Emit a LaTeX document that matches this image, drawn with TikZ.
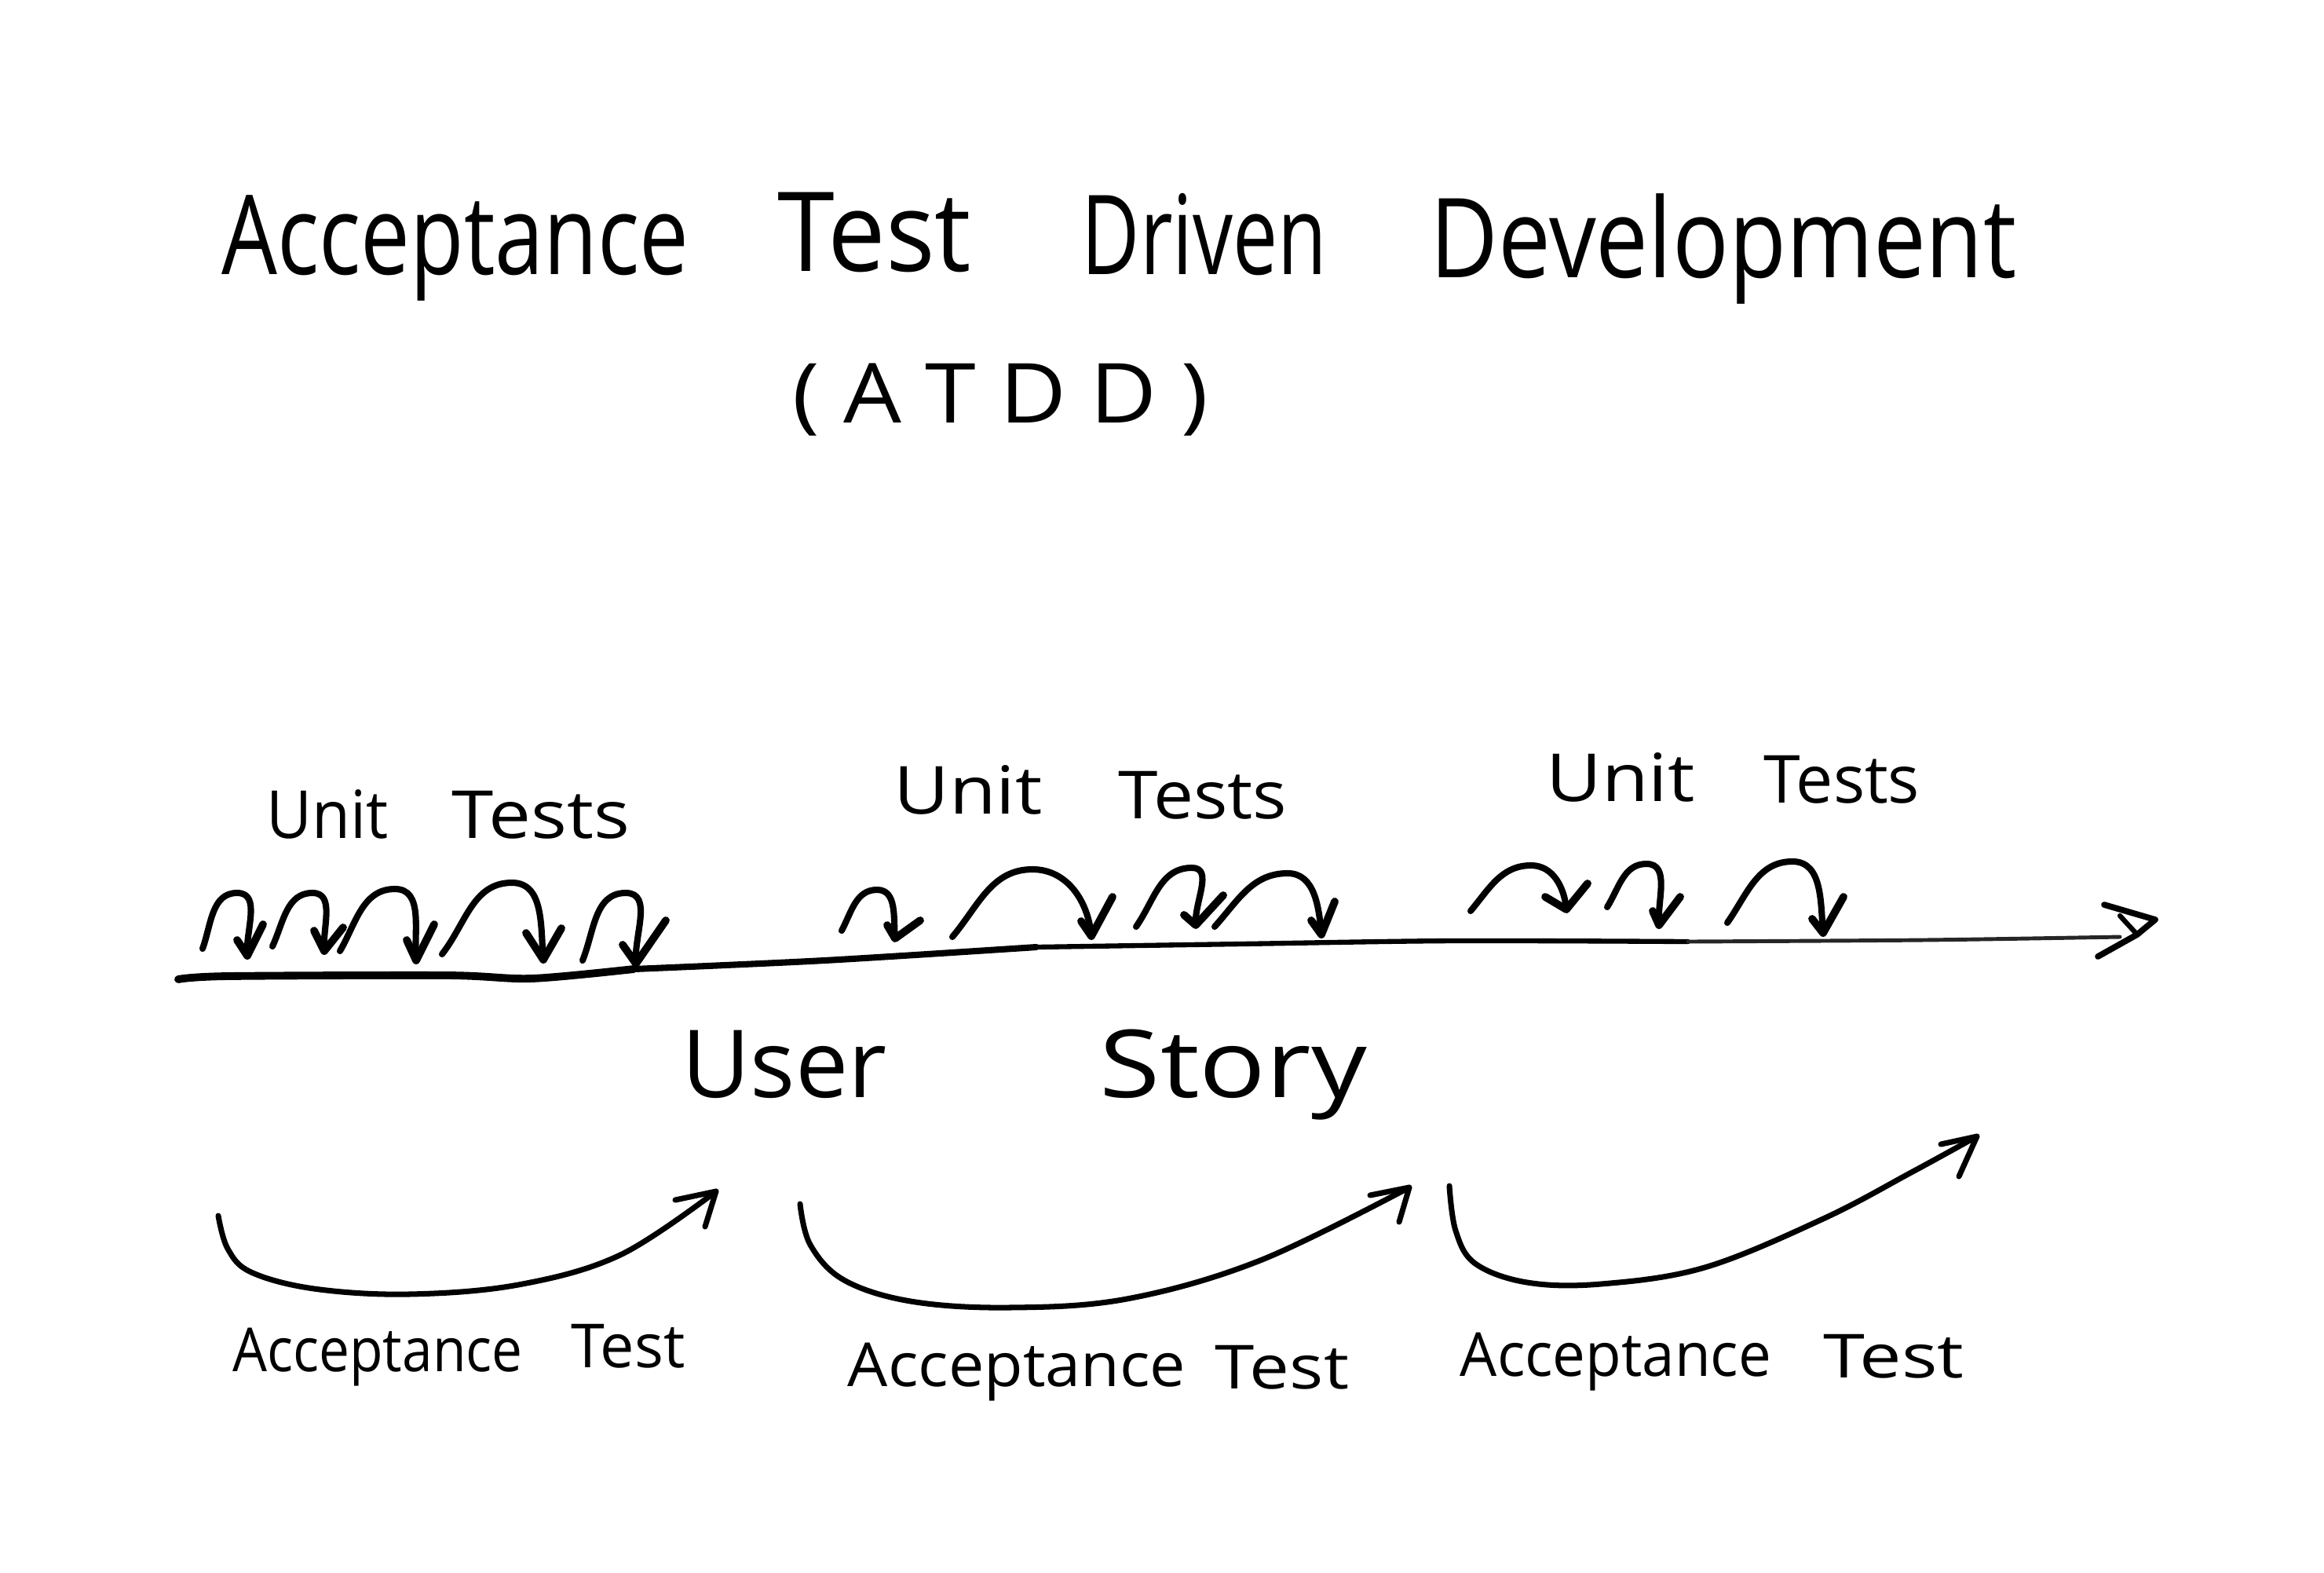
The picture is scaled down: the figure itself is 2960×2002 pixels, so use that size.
\documentclass[tikz,border=0pt]{standalone}
\usepackage{fontspec}
\usepackage{graphicx}
\setmainfont{Open Sans}
\usetikzlibrary{calc}
\newcommand\hw[3]{\resizebox{#1}{\height}{\fontsize{#2}{#2}\selectfont #3}}
\tikzset{
  word/.style={inner sep=0pt, outer sep=0pt, anchor=base, text=black},
  ustroke/.style={line width=2.3pt, line cap=round, line join=round, black},
  uhead/.style={line width=2.8pt, line cap=round, line join=round, black},
  bigstroke/.style={line width=2pt, line cap=round, line join=round, black},
  baseline/.style={line cap=round, black},
}
% unit arrow: #1 start, #2 top, #3 tip, #4 left wing, #5 right wing, #6 out angle
\newcommand\uarr[6]{%
  \draw[ustroke] (#1) to[out=#6,in=180] (#2) to[out=0,in=95] (#3);
  \draw[uhead] (#4) -- (#3) -- (#5);}
\begin{document}
\begin{tikzpicture}[x=0.01cm,y=-0.01cm]
\useasboundingbox (0,0) rectangle (2960,2002);
\fill[white] (0,0) rectangle (2960,2002);

% title
\node[word] (t1) at (580,349) {\hw{5.95cm}{40}{Acceptance}};
\node[word] (t2) at (1114,345) {\hw{2.46cm}{40}{Test}};
\node[word] (t3) at (1534,349) {\hw{3.12cm}{40}{Driven}};
\node[word] (t4) at (2195,353) {\hw{7.46cm}{40}{Development}};
\node[word] (t5) at (1274,538) {\hw{5.29cm}{30}{( A T D D )}};

% timeline (tapering)
\draw[baseline, line width=2.8pt] plot[smooth, tension=0.5] coordinates {(227,1247) (290,1243) (570,1242) (677,1246) (807,1234)};
\draw[baseline, line width=2.3pt] plot[smooth, tension=0.5] coordinates {(807,1234) (1050,1223) (1320,1206)};
\draw[baseline, line width=1.8pt] plot[smooth, tension=0.5] coordinates {(1320,1206) (1580,1202) (1850,1198) (2150,1199)};
\draw[baseline, line width=1.4pt, black!85] plot[smooth, tension=0.5] coordinates {(2150,1199) (2450,1197) (2700,1193)};
\draw[uhead, line width=2.2pt] (2680,1152) -- (2745,1171) -- (2722,1190) -- (2672,1218);
\draw[uhead, line width=1.8pt] (2700,1166) -- (2722,1190);

% unit test labels
\node[word] (u1a) at (417,1067) {\hw{1.55cm}{24}{Unit}};
\node[word] (u1b) at (689,1067) {\hw{2.26cm}{24}{Tests}};
\node[word] (u2a) at (1233,1036) {\hw{1.89cm}{24}{Unit}};
\node[word] (u2b) at (1532,1042) {\hw{2.14cm}{24}{Tests}};
\node[word] (u3a) at (2064,1020) {\hw{1.89cm}{24}{Unit}};
\node[word] (u3b) at (2346,1022) {\hw{1.98cm}{24}{Tests}};

% unit test arrows, group 1
\uarr{258,1208}{302,1137}{315,1217}{302,1197}{335,1177}{70}
\uarr{347,1205}{398,1137}{413,1211}{400,1185}{437,1181}{65}
\uarr{433,1211}{503,1132}{530,1223}{518,1197}{553,1177}{60}
\uarr{563,1215}{652,1124}{692,1222}{670,1188}{715,1182}{52}
\uarr{742,1223}{797,1137}{810,1227}{793,1203}{848,1172}{68}
% group 2
\uarr{1072,1185}{1117,1133}{1140,1195}{1130,1178}{1172,1172}{62}
\uarr{1213,1193}{1315,1107}{1390,1192}{1377,1173}{1417,1142}{50}
\uarr{1447,1180}{1518,1105}{1523,1178}{1508,1165}{1558,1140}{55}
\uarr{1547,1180}{1640,1112}{1683,1190}{1670,1172}{1700,1148}{48}
% group 3
\uarr{1873,1160}{1950,1102}{1995,1158}{1968,1142}{2022,1125}{50}
\uarr{2047,1155}{2097,1100}{2113,1178}{2105,1160}{2140,1142}{58}
\uarr{2200,1175}{2283,1097}{2322,1188}{2308,1170}{2348,1142}{55}

% user story
\node[word] (us1) at (999,1397) {\hw{2.61cm}{34}{User}};
\node[word] (us2) at (1571,1397) {\hw{3.40cm}{34}{Story}};

% acceptance test arrows
\draw[bigstroke] plot[smooth, tension=0.6] coordinates {(278,1548) (290,1590) (320,1620) (400,1641) (520,1648) (660,1636) (790,1598) (912,1517)};
\draw[bigstroke] (860,1528) -- (912,1517) -- (898,1562);
\draw[bigstroke] plot[smooth, tension=0.6] coordinates {(1019,1533) (1032,1585) (1075,1630) (1160,1657) (1284,1665) (1435,1654) (1605,1605) (1795,1512)};
\draw[bigstroke] (1745,1522) -- (1795,1512) -- (1782,1556);
\draw[bigstroke] plot[smooth, tension=0.6] coordinates {(1846,1510) (1854,1567) (1879,1609) (1945,1633) (2039,1635) (2171,1614) (2322,1552) (2436,1492) (2518,1447)};
\draw[bigstroke] (2472,1457) -- (2518,1447) -- (2495,1498);

% acceptance test labels
\node[word] (a1a) at (481,1746) {\hw{3.69cm}{22}{Acceptance}};
\node[word] (a1b) at (800,1741) {\hw{1.45cm}{22}{Test}};
\node[word] (a2a) at (1295,1765) {\hw{4.30cm}{22}{Acceptance}};
\node[word] (a2b) at (1633,1768) {\hw{1.70cm}{22}{Test}};
\node[word] (a3a) at (2058,1752) {\hw{3.96cm}{22}{Acceptance}};
\node[word] (a3b) at (2412,1754) {\hw{1.79cm}{22}{Test}};
\end{tikzpicture}
\end{document}
